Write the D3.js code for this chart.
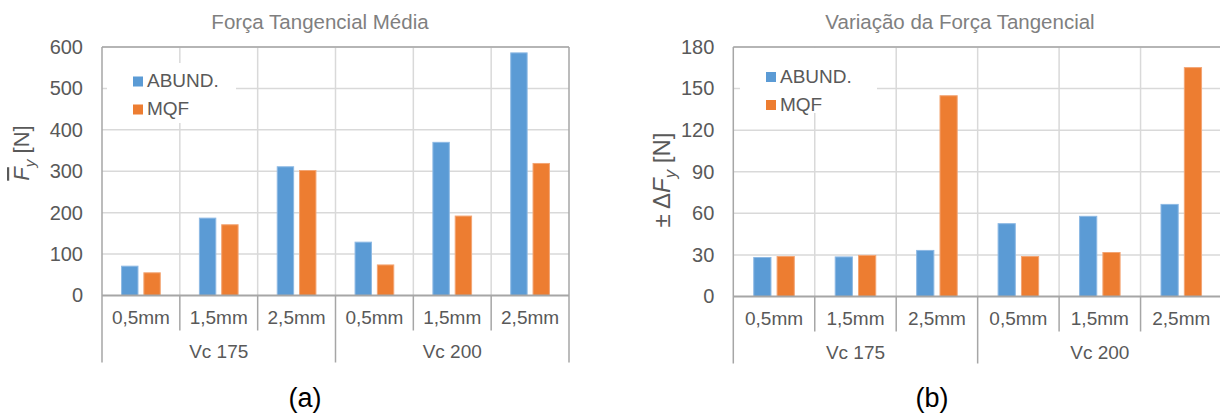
<!DOCTYPE html>
<html>
<head>
<meta charset="utf-8">
<script src="https://cdn.jsdelivr.net/npm/d3@7"></script>
<style>
  html, body { margin: 0; padding: 0; background: #fff; }
  svg { display: block; font-family: "Liberation Sans", Arial, sans-serif; }
</style>
</head>
<body>
<svg id="fig" width="1220" height="415"></svg>
<script>
// ---- data ----
const subCategories = ["0,5mm", "1,5mm", "2,5mm"];
const groups = ["Vc 175", "Vc 200"];
const seriesNames = ["ABUND.", "MQF"];
const seriesColors = ["#5B9BD5", "#ED7D31"];
const seriesEdges = ["#8DB9E4", "#F3A574"];

// mean tangential force [N]
const meanAbund = [72, 188, 312, 130, 371, 587];
const meanMqf   = [56, 172, 303, 75, 193, 320];
const meanTicks = [0, 100, 200, 300, 400, 500, 600];

// tangential force variation [N]
const varAbund = [28.5, 28.9, 33.6, 52.9, 58.2, 66.8];
const varMqf   = [29.2, 30.0, 145.2, 29.2, 32.1, 165.5];
const varTicks = [0, 30, 60, 90, 120, 150, 180];

const svg = d3.select("#fig");
const TICK_COLOR = "#595959";
const AXIS_COLOR = "#A6A6A6";
const GRID_COLOR = "#D9D9D9";

function drawChart(opt) {
  const g = svg.append("g");
  const cats = [];
  groups.forEach(gr => subCategories.forEach(s => cats.push(gr + "|" + s)));
  const rows = cats.map((c, i) => ({ key: c, vals: [opt.a[i], opt.b[i]] }));

  const x = d3.scaleBand().domain(cats).range([opt.left, opt.right]).padding(0);
  const bw = x.bandwidth();
  const x1 = d3.scaleBand().domain(seriesNames)
    .range([bw * 0.245, bw * 0.755]).paddingInner(0.22).paddingOuter(0);
  const y = d3.scaleLinear().domain([opt.ticks[0], opt.ticks[opt.ticks.length - 1]])
    .range([opt.bottom, opt.top]);

  // horizontal gridlines
  g.append("g").selectAll("line").data(opt.ticks.slice(1)).join("line")
    .attr("x1", opt.left).attr("x2", opt.right)
    .attr("y1", d => y(d)).attr("y2", d => y(d))
    .attr("stroke", GRID_COLOR).attr("stroke-width", 1.5);
  // vertical gridlines at category boundaries
  g.append("g").selectAll("line").data(cats.slice(1)).join("line")
    .attr("x1", d => x(d)).attr("x2", d => x(d))
    .attr("y1", opt.top).attr("y2", opt.bottom)
    .attr("stroke", GRID_COLOR).attr("stroke-width", 1.5);

  // plot border (top)
  g.append("line").attr("x1", opt.left).attr("x2", opt.right)
    .attr("y1", y.range()[1]).attr("y2", y.range()[1])
    .attr("stroke", AXIS_COLOR).attr("stroke-width", 1.5);

  // legend box hides gridlines behind it
  const lg = g.append("g");
  lg.append("rect").attr("x", opt.legend.x).attr("y", opt.legend.y)
    .attr("width", opt.legend.w).attr("height", opt.legend.h).attr("fill", "#fff");
  seriesNames.forEach((s, i) => {
    const yy = opt.legend.itemY + i * 28;
    lg.append("rect").attr("x", opt.legend.sx).attr("y", yy - 10.5)
      .attr("width", 10).attr("height", 10).attr("fill", seriesColors[i]);
    lg.append("text").attr("x", opt.legend.sx + 14).attr("y", yy)
      .attr("font-size", 19).attr("fill", TICK_COLOR).text(s);
  });

  // bars
  const bars = g.append("g").selectAll("g").data(rows).join("g")
    .attr("transform", d => `translate(${x(d.key)},0)`);
  bars.selectAll("rect").data(d => d.vals.map((v, i) => ({ s: seriesNames[i], v, i }))).join("rect")
    .attr("x", d => x1(d.s) + 0.5)
    .attr("width", x1.bandwidth() - 1)
    .attr("y", d => y(d.v) + 0.5)
    .attr("height", d => y(0) - y(d.v) - 0.5)
    .attr("fill", d => seriesColors[d.i])
    .attr("stroke", d => seriesEdges[d.i]).attr("stroke-width", 1);

  // value axis labels
  const yAxis = d3.axisLeft(y).tickValues(opt.ticks).tickSize(0).tickPadding(19);
  const ya = g.append("g").attr("transform", `translate(${opt.left},0)`).call(yAxis);
  ya.select(".domain").remove();
  ya.selectAll("text").attr("font-size", 20).attr("fill", TICK_COLOR)
    .attr("font-family", "Liberation Sans, Arial, sans-serif");

  // category axis: baseline, ticks and two-level labels
  const axisBottom = y(0);
  g.append("line").attr("x1", opt.left).attr("x2", opt.right)
    .attr("y1", axisBottom).attr("y2", axisBottom)
    .attr("stroke", AXIS_COLOR).attr("stroke-width", 2);
  const boundaries = cats.map(c => x(c)).concat([opt.right]);
  g.append("g").selectAll("line").data(boundaries).join("line")
    .attr("x1", d => d).attr("x2", d => d)
    .attr("y1", (d, i) => (i === 0 || i === cats.length) ? opt.top : axisBottom)
    .attr("y2", (d, i) => (i % subCategories.length === 0) ? axisBottom + 67 : axisBottom + 35)
    .attr("stroke", AXIS_COLOR).attr("stroke-width", 1.5);
  g.append("g").selectAll("text").data(cats).join("text")
    .attr("x", d => x(d) + bw / 2).attr("y", axisBottom + 28.5)
    .attr("text-anchor", "middle").attr("font-size", 19).attr("fill", TICK_COLOR)
    .text(d => d.split("|")[1]);
  g.append("g").selectAll("text").data(groups).join("text")
    .attr("x", (d, i) => x(d + "|" + subCategories[1]) + bw / 2).attr("y", axisBottom + 62.5)
    .attr("text-anchor", "middle").attr("font-size", 19).attr("fill", TICK_COLOR)
    .text(d => d);

  // title
  g.append("text").attr("x", opt.titleX).attr("y", 29)
    .attr("text-anchor", "middle").attr("font-size", 20.5).attr("fill", "#7F7F7F")
    .text(opt.title);

  // value axis title
  const fs = opt.yTitle.size;
  const yt = g.append("text")
    .attr("transform", `translate(${opt.yTitle.x},${opt.yTitle.y}) rotate(-90)`)
    .attr("text-anchor", "middle").attr("font-size", fs).attr("fill", TICK_COLOR);
  opt.yTitle.parts.forEach(p => {
    const t = yt.append("tspan").text(p.t);
    if (p.italic) t.attr("font-style", "italic");
    if (p.over) t.attr("text-decoration", "overline");
    if (p.sub) t.attr("font-size", fs * 0.7).attr("dy", fs * 0.25);
    if (p.unsub) t.attr("dy", -fs * 0.25);
  });

  // panel label
  g.append("text").attr("x", opt.panel.x).attr("y", 407)
    .attr("text-anchor", "middle").attr("font-size", 27).attr("fill", "#000")
    .text(opt.panel.t);
}

drawChart({
  a: meanAbund, b: meanMqf, ticks: meanTicks,
  left: 102, right: 569, top: 47, bottom: 295.5,
  title: "Força Tangencial Média", titleX: 320,
  legend: { x: 107, y: 63, w: 129, h: 60, sx: 133, itemY: 87 },
  yTitle: { x: 29, y: 153, size: 22, parts: [
    { t: "F", italic: true, over: true },
    { t: "y", italic: true, sub: true },
    { t: " [N]", unsub: true } ] },
  panel: { x: 305, t: "(a)" }
});

drawChart({
  a: varAbund, b: varMqf, ticks: varTicks,
  left: 733.3, right: 1222, top: 47, bottom: 296.5,
  title: "Variação da Força Tangencial", titleX: 960,
  legend: { x: 740, y: 48, w: 137, h: 65, sx: 766, itemY: 82.5 },
  yTitle: { x: 670, y: 180, size: 24, parts: [
    { t: "± Δ" },
    { t: "F", italic: true },
    { t: "y", italic: true, sub: true },
    { t: " [N]", unsub: true } ] },
  panel: { x: 932, t: "(b)" }
});
</script>
</body>
</html>
